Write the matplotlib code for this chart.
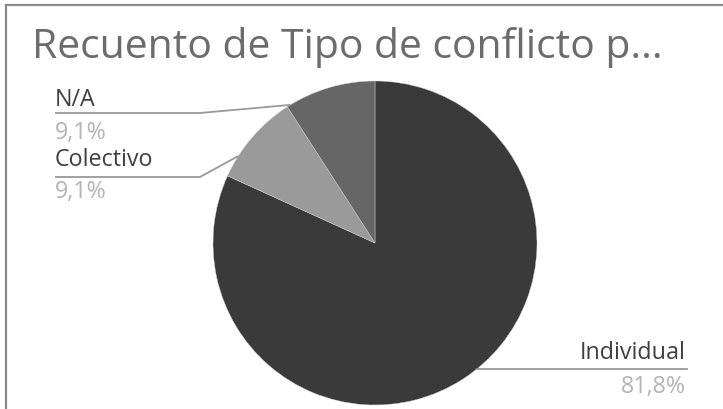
import numpy as np
import matplotlib
matplotlib.use('Agg')
import matplotlib.pyplot as plt
from matplotlib.lines import Line2D

# data
categories = ['Individual', 'Colectivo', 'N/A']
values = [81.8, 9.1, 9.1]
pct_labels = ['81,8%', '9,1%', '9,1%']
colors = ['#3a3a3a', '#9a9a9a', '#666666']
title = 'Recuento de Tipo de conflicto p...'

W, H = 723, 409
fig = plt.figure(figsize=(W / 100, H / 100), dpi=100)
ax = fig.add_axes([0, 0, 1, 1])

def py(y):
    # pixel row -> data y
    return H - y

cx, cy, r = 375, py(243), 162
ax.pie(values, colors=colors, startangle=90, counterclock=False,
       center=(cx, cy), radius=r, frame=True,
       wedgeprops=dict(edgecolor='#d0d0d0', linewidth=0.3))
ax.set_xlim(0, W)
ax.set_ylim(0, H)
ax.set_aspect('equal')
ax.axis('off')

font = 'Open Sans'
txt_col = '#404040'
pct_col = '#b4b4b4'
line_col = '#999999'

renderer = fig.canvas.get_renderer()

def fit(t, target):
    # scale font so the text spans the target pixel width
    w = t.get_window_extent(renderer).width
    t.set_fontsize(t.get_fontsize() * target / w)

tt = ax.text(32, py(47), title, fontsize=18, color='#6c6c6c', family=font,
             ha='left', va='center')
fit(tt, 630)

# measure label size from "Colectivo" (98 px wide in the reference)
probe = ax.text(0, 0, 'Colectivo', fontsize=13, family=font)
fit(probe, 98)
lab_fs = probe.get_fontsize()
probe.remove()

# left-side labels (N/A, Colectivo): label, underline, pct, leader angle
left = [
    ('N/A', pct_labels[2], 100, 113, 133, 200, 121.5),
    ('Colectivo', pct_labels[1], 160, 177, 192, 200, 147.5),
]
for name, pct, ty, ly, py_, kx, ang in left:
    ax.text(55, py(ty), name, fontsize=lab_fs, color=txt_col, family=font,
            ha='left', va='center')
    ax.plot([55, kx, cx + r * np.cos(np.radians(ang))],
            [py(ly), py(ly), cy + r * np.sin(np.radians(ang))],
            color=line_col, lw=1.3, solid_capstyle='butt')
    ax.text(55, py(py_), pct, fontsize=lab_fs, color=pct_col, family=font,
            ha='left', va='center')

# right label (Individual)
ly = 369
ex = cx + np.sqrt(r ** 2 - (py(ly) - cy) ** 2)
ax.plot([ex, 687], [py(ly), py(ly)], color=line_col, lw=1.3)
ax.text(686, py(353), categories[0], fontsize=lab_fs, color=txt_col, family=font,
        ha='right', va='center')
ax.text(686, py(387), pct_labels[0], fontsize=lab_fs, color=pct_col, family=font,
        ha='right', va='center')

# frame lines (top and left)
fig.add_artist(Line2D([6 / W, 1], [1 - 5 / H, 1 - 5 / H], color='#8a8a8a', lw=1.6))
fig.add_artist(Line2D([6.5 / W, 6.5 / W], [0, 1 - 5 / H], color='#8a8a8a', lw=1.6))

fig.savefig('out.png', dpi=100)
